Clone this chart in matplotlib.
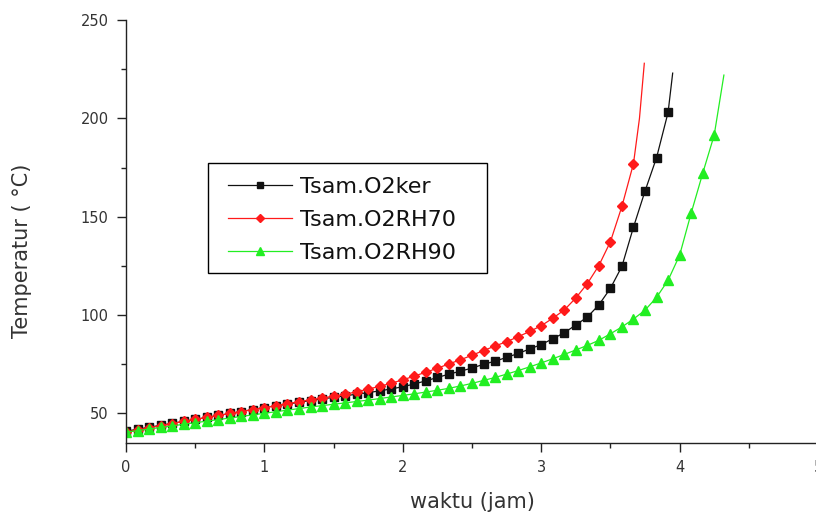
import numpy as np
import matplotlib
matplotlib.use('Agg')
import matplotlib.pyplot as plt
from matplotlib.patches import Rectangle

# samples every 5 minutes, last point of each run has no marker
step_h = 5 / 60.0

t_ker = list(np.arange(48) * step_h) + [3.95]
T_ker = [41.0, 42.0, 43.0, 44.0, 45.0, 46.0, 47.0, 48.0, 49.0, 50.0, 51.0, 52.0, 53.0,
         53.9, 54.8, 55.7, 56.6, 57.4, 58.2, 59.0, 59.8, 60.6, 61.5, 62.5, 63.6,
         65.0, 66.6, 68.3, 70.0, 71.5, 73.1, 75.0, 76.6, 78.5, 80.5, 82.8, 85.0,
         88.0, 91.0, 95.0, 99.0, 105.2, 113.6, 124.8, 144.7, 163.0, 180.0, 203.0,
         223.0]

t_rh70 = list(np.arange(45) * step_h) + [3.71, 3.745]
T_rh70 = [40.5, 41.6, 42.7, 43.8, 44.9, 46.0, 47.0, 48.0, 49.0, 50.0, 51.0, 52.0, 53.0,
          54.0, 55.0, 56.0, 57.0, 57.9, 58.8, 59.8, 61.0, 62.4, 63.8, 65.4, 67.1,
          69.0, 71.0, 73.0, 75.2, 77.3, 79.6, 82.0, 84.3, 86.5, 89.0, 91.7, 94.6,
          98.4, 102.6, 108.7, 116.0, 125.2, 137.3, 155.3, 177.0, 200.0, 228.0]

t_rh90 = list(np.arange(52) * step_h) + [4.32]
T_rh90 = [40.5, 41.3, 42.1, 42.9, 43.7, 44.5, 45.3, 46.1, 46.9, 47.7, 48.5, 49.3, 50.1,
          50.9, 51.7, 52.5, 53.3, 54.0, 54.7, 55.4, 56.1, 56.8, 57.6, 58.4, 59.2,
          60.0, 60.9, 61.8, 62.8, 64.0, 65.3, 66.8, 68.3, 70.0, 71.8, 73.7, 75.7,
          77.8, 80.0, 82.3, 84.6, 87.2, 90.5, 94.0, 98.0, 102.5, 109.0, 117.7, 130.4,
          151.8, 172.0, 191.5, 222.0]

labels = ['Tsam.O2ker', 'Tsam.O2RH70', 'Tsam.O2RH90']

plt.rcParams['font.family'] = ['DejaVu Sans']

fig = plt.figure(figsize=(8.16, 5.17), dpi=100)
ax = fig.add_axes([126 / 816, 74 / 517, 692 / 816, 423 / 517])

ax.plot(t_ker, T_ker, color='#111111', lw=0.9, marker='s', ms=6.2,
        markevery=list(range(48)), label=labels[0])
ax.plot(t_rh70, T_rh70, color='#ff1a1a', lw=0.9, marker='D', ms=5.6,
        markevery=list(range(45)), label=labels[1])
ax.plot(t_rh90, T_rh90, color='#22ee22', lw=0.9, marker='^', ms=7.8,
        markevery=list(range(52)), label=labels[2])

ax.set_xlim(0, 5)
ax.set_ylim(35, 250)
ax.set_xticks([0, 1, 2, 3, 4, 5])
ax.set_xticks(np.arange(0.5, 5, 1), minor=True)
ax.set_yticks([50, 100, 150, 200, 250])
ax.set_yticks([75, 125, 175, 225], minor=True)

for s in ['top', 'right']:
    ax.spines[s].set_visible(False)
for s in ['left', 'bottom']:
    ax.spines[s].set_color('#222222')
    ax.spines[s].set_linewidth(1.0)

ax.tick_params(which='major', direction='out', length=6.5, width=1, color='#222222',
               labelsize=10.5, labelcolor='#333333', pad=6)
ax.tick_params(which='minor', direction='out', length=3.5, width=1, color='#222222')

fig.text(472 / 816, 1 - 502 / 517, 'waktu (jam)', ha='center', va='center',
         fontsize=15, color='#333333')
fig.text(22 / 816, 1 - 251 / 517, 'Temperatur ( °C)', ha='center', va='center',
         rotation=90, fontsize=15, color='#333333')

# legend box drawn separately, entries placed inside it
fig.patches.append(Rectangle((208 / 816, 1 - 273 / 517), 279 / 816, 110 / 517,
                             transform=fig.transFigure, fill=False,
                             edgecolor='black', lw=1.0))
leg = ax.legend(loc='center left', bbox_to_anchor=(228 / 816, 1 - 220 / 517),
                bbox_transform=fig.transFigure, fontsize=16, frameon=False,
                handlelength=2.9, handletextpad=0.35, borderpad=0,
                borderaxespad=0, labelspacing=0.58, markerscale=0.8)
for txt in leg.get_texts():
    txt.set_color('#111111')

fig.savefig('out.png', dpi=100)
